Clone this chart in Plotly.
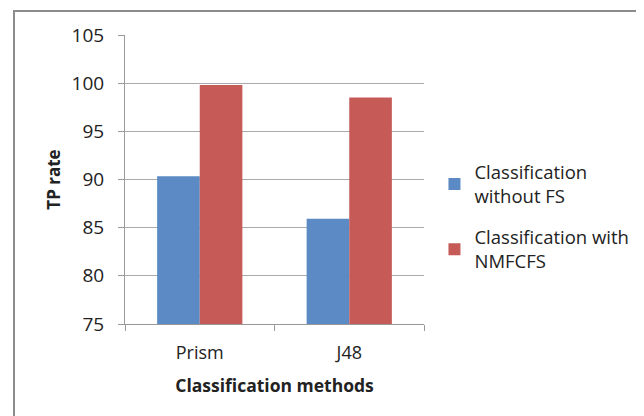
import plotly.graph_objects as go

categories = ["Prism", "J48"]
without_fs = [90.33, 85.93]
with_nmfcfs = [99.8, 98.5]
series_names = ["Classification<br>without FS", "Classification with<br>NMFCFS"]
y_ticks = [75, 80, 85, 90, 95, 100, 105]

FONT = "Open Sans"

fig = go.Figure()
fig.add_trace(go.Bar(x=categories, y=without_fs, name=series_names[0], legendgroup="g1",
                     marker=dict(color="#5B8AC4", line=dict(width=0))))
fig.add_trace(go.Bar(x=categories, y=with_nmfcfs, name=series_names[1], legendgroup="g2",
                     marker=dict(color="#C55A57", line=dict(width=0))))

fig.update_layout(
    width=636, height=408,
    margin=dict(l=117, r=220, t=27, b=92, autoexpand=False),
    paper_bgcolor="white", plot_bgcolor="white",
    barmode="group", bargap=0.43, bargroupgap=0,
    font=dict(family=FONT, size=17, color="#222"),
    showlegend=True,
    legend=dict(x=1.035, xanchor="left", y=0.37, yanchor="middle",
                font=dict(size=18.5, family=FONT), tracegroupgap=14, traceorder="grouped",
                itemsizing="constant", bgcolor="rgba(0,0,0,0)"),
    xaxis=dict(showline=True, linecolor="#999", linewidth=1,
               ticks="outside", tickson="boundaries", ticklen=6, tickcolor="#999",
               tickfont=dict(size=18), showgrid=False, ticklabelstandoff=12,
               title=dict(text="<b>Classification methods</b>", font=dict(size=17.5), standoff=17)),
    yaxis=dict(range=[75, 105], tickvals=y_ticks, showline=True, linecolor="#999", linewidth=1,
               ticks="outside", ticklen=6, tickcolor="#999",
               showgrid=True, gridcolor="#aaaaaa", gridwidth=1,
               tickfont=dict(size=19), ticklabelstandoff=10,
               title=dict(text="<b>TP rate</b>", font=dict(size=17), standoff=6)),
)

fig.add_shape(type="rect", xref="paper", yref="paper",
              x0=(14 - 125) / 299, x1=2.0, y0=-1.0, y1=(324 - 11) / 289,
              line=dict(color="#8c8c8c", width=2), fillcolor="rgba(0,0,0,0)", layer="below")

fig.write_html("out.html")
